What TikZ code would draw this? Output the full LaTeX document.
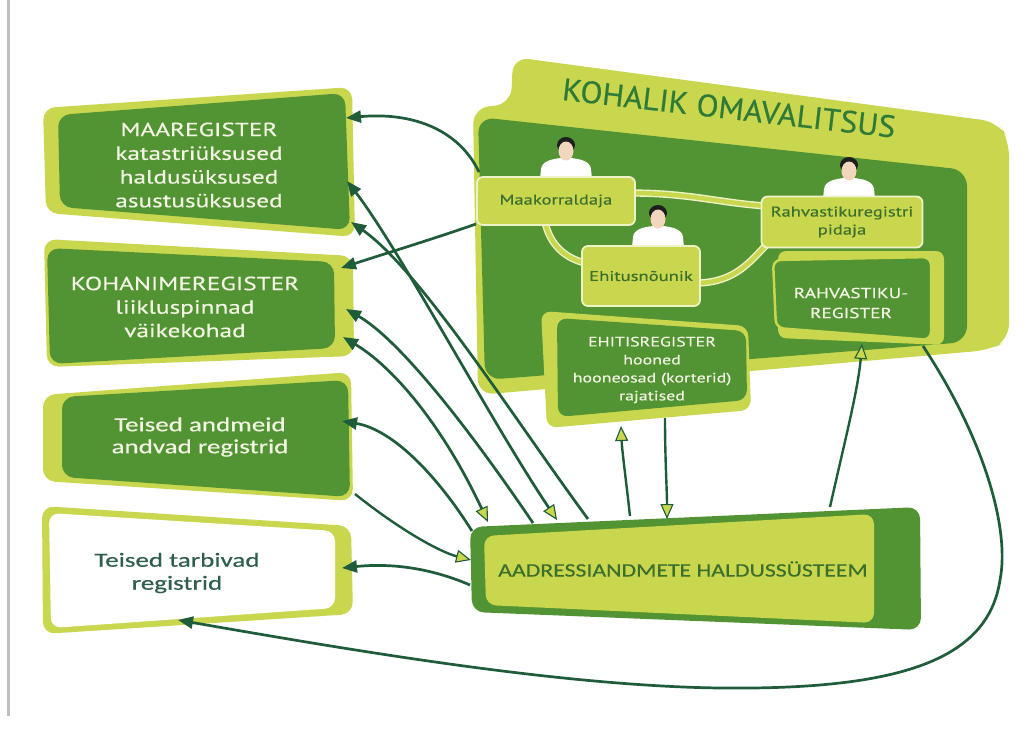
\documentclass[tikz,border=0pt]{standalone}
\usepackage{fontspec}
\usetikzlibrary{arrows.meta}
\setmainfont{PT Sans}
\newfontfamily\fwide[FakeStretch=1.33,FakeBold=0.5]{PT Sans}
\newfontfamily\ftitle[FakeStretch=1.04,FakeBold=0.5]{PT Sans}
\newfontfamily\fcal[FakeStretch=1.35,FakeBold=0.5]{Carlito}
\newfontfamily\fcalb[FakeStretch=1.25,FakeBold=0.5]{Carlito}
\definecolor{dg}{HTML}{529433}
\definecolor{lg}{HTML}{C9D74F}
\definecolor{pale}{HTML}{EEF3C6}
\definecolor{conn}{HTML}{1F5C3A}
\definecolor{ttl}{HTML}{2E7A36}
\definecolor{ptxt}{HTML}{3C6F2C}
\definecolor{wtxt}{HTML}{F1F5E2}
\definecolor{gtxt}{HTML}{2F5F4C}
\definecolor{skin}{HTML}{F3D6BE}
\definecolor{hair}{HTML}{1E1E1E}
\tikzset{
  darr/.style={draw=conn, line width=2.7pt, -{Triangle[length=15pt,width=12pt]}},
  larr/.style={draw=conn, line width=2.4pt, -{Triangle[length=15pt,width=13pt,fill=lg,line width=1.1pt]}},
  dlarr/.style={draw=conn, line width=2.7pt, {Triangle[length=15pt,width=13pt,fill=lg,line width=1.1pt]}-{Triangle[length=15pt,width=12pt]}},
  pline/.style={draw=pale, line width=1.4pt, double=lg, double distance=4.5pt},
  pbox/.style={fill=lg, draw=pale, line width=1.8pt, rounded corners=6pt, text=ptxt, inner sep=0pt, font=\fwide\fontsize{14}{18}\selectfont, align=center},
  regtxt/.style={inner sep=0pt, align=center, text=wtxt},
}
\newcommand\drawperson[2]{%
  \fill[white] (#1-26,#2) -- (#1-25,#2-10) .. controls (#1-24,#2-18) and (#1-14,#2-20) .. (#1-5,#2-21) -- (#1+5,#2-21) .. controls (#1+14,#2-20) and (#1+24,#2-18) .. (#1+25,#2-10) -- (#1+26,#2) -- cycle;
  \fill[hair] (#1,#2-34) ellipse [x radius=9, y radius=8];
  \fill[skin] (#1,#2-28) ellipse [x radius=7.5, y radius=9.5];
}
\begin{document}
\begin{tikzpicture}[x=1pt,y=-1pt]
\useasboundingbox (0,0) rectangle (1029,731);
\fill[white] (0,0) rectangle (1029,731);
% grey margin line
\fill[black!25] (7,0) rectangle (10,716);

% ---- KOHALIK OMAVALITSUS frame
\fill[lg, rounded corners=16] (513,57) -- (998,122) -- (1009,140) -- (1009,340) -- (990,350) -- (478,395) -- (473,108) -- (511,104) -- cycle;
\fill[dg, rounded corners=16] (478,117) -- (967,170) -- (967,342) -- (485,380) -- cycle;
\node[rotate=-6.5, inner sep=0pt, text=ttl, font=\ftitle\fontsize{31}{31}\selectfont] (title) at (729,108) {KOHALIK OMAVALITSUS};

% ---- EHITISREGISTER
\fill[lg, rounded corners=10] (541,311) -- (748,326) -- (751,410) -- (547,428) -- cycle;
\fill[dg, rounded corners=10] (557,318) -- (746,331) -- (747,400) -- (558,417) -- cycle;
\node[regtxt, font=\fwide\fontsize{13.5}{18}\selectfont] (ehit) at (652,370) {EHITISREGISTER\\hooned\\hooneosad (korterid)\\rajatised};

% ---- RAHVASTIKUREGISTER
\fill[lg, rounded corners=8] (778,251) -- (944,251) -- (944,345) -- (778,338) -- cycle;
\filldraw[fill=dg, draw=lg, line width=2.5pt, rounded corners=8] (773,260) -- (931,257) -- (931,340) -- (776,328) -- cycle;
\node[regtxt, font=\fwide\fontsize{14.5}{20}\selectfont] (rreg) at (851,303) {RAHVASTIKU-\\REGISTER};

% ---- person connections
\draw[pline] (630,193) .. controls (690,193) and (720,203) .. (766,206);
\draw[pline] (545,222) .. controls (550,245) and (565,258) .. (585,263);
\draw[pline] (698,283) .. controls (735,282) and (750,262) .. (768,243);

% ---- persons
\drawperson{566}{179}
\drawperson{658}{247}
\drawperson{849}{199}
\node[pbox, minimum width=158pt, minimum height=48pt] (pmaak) at (556,201) {Maakorraldaja};
\node[pbox, minimum width=118pt, minimum height=60pt] (pehit) at (641,276) {Ehitusnõunik};
\node[pbox, minimum width=161pt, minimum height=51pt] (prahv) at (842,222) {Rahvastikuregistri\\pidaja};

% ---- left registers
\fill[lg, rounded corners=12] (43,108) -- (352,87) -- (355,237) -- (46,213) -- cycle;
\fill[dg, rounded corners=12] (58,115) -- (345,93) -- (350,230) -- (60,207) -- cycle;
\node[regtxt, font=\fwide\fontsize{19}{23.7}\selectfont] (maa) at (199,165) {MAAREGISTER\\katastriüksused\\haldusüksused\\asustusüksused};

\fill[lg, rounded corners=12] (44,239) -- (353,256) -- (354,356) -- (47,367) -- cycle;
\fill[dg, rounded corners=12] (47,248) -- (334,262) -- (335,348) -- (50,364) -- cycle;
\node[regtxt, font=\fwide\fontsize{19}{23.5}\selectfont] (koh) at (185,307) {KOHANIMEREGISTER\\liikluspinnad\\väikekohad};

\fill[lg, rounded corners=12] (43,395) -- (351,372) -- (353,501) -- (43,481) -- cycle;
\fill[dg, rounded corners=12] (62,397) -- (348,380) -- (350,497) -- (62,477) -- cycle;
\node[regtxt, font=\fcal\fontsize{20}{22}\selectfont] (tand) at (200,437) {Teised andmeid\\andvad registrid};

\fill[lg, rounded corners=12] (42,506) -- (351,526) -- (353,614) -- (43,634) -- cycle;
\fill[white, rounded corners=10] (49,513) -- (335,531) -- (335,608) -- (51,628) -- cycle;
\node[inner sep=0pt, align=center, text=gtxt, font=\fcal\fontsize{20}{23}\selectfont] (ttar) at (177,573) {Teised tarbivad\\registrid};

% ---- address system
\fill[dg, rounded corners=12] (470,527) -- (920,507) -- (921,630) -- (472,612) -- cycle;
\fill[lg, rounded corners=10] (484,536) -- (874,514) -- (874,623) -- (486,605) -- cycle;
\node[inner sep=0pt, text=ptxt, font=\fcalb\fontsize{19}{19}\selectfont] (ads) at (683,569) {AADRESSIANDMETE HALDUSSÜSTEEM};

% ---- connector end points
\coordinate (c1s) at (479,172); \coordinate (c1e) at (346,118);
\coordinate (c2s) at (476,224); \coordinate (c2e) at (341,268);
\coordinate (m1s) at (557,520); \coordinate (m1e) at (347,181);
\coordinate (m2s) at (588,519); \coordinate (m2e) at (351,222);
\coordinate (k1s) at (533,523); \coordinate (k1e) at (346,309);
\coordinate (k2s) at (488,522); \coordinate (k2e) at (343,337);
\coordinate (t1s) at (472,531); \coordinate (t1e) at (342,421);
\coordinate (t2s) at (355,494); \coordinate (t2e) at (471,560);
\coordinate (tts) at (470,585); \coordinate (tte) at (342,568);
\coordinate (e1s) at (630,516); \coordinate (e1e) at (621,426);
\coordinate (e2s) at (665,418); \coordinate (e2e) at (667,519);
\coordinate (r1s) at (830,507); \coordinate (r1e) at (862,344);
\coordinate (bs) at (923,346);  \coordinate (be) at (178,620);
\coordinate (bm1) at (1000,580); \coordinate (bm2) at (720,688);

% ---- connectors
\draw[darr] (c1s) .. controls (458,128) and (410,112) .. (c1e);
\draw[darr] (c2s) .. controls (430,240) and (390,252) .. (c2e);
\draw[dlarr] (m1s) .. controls (490,420) and (400,250) .. (m1e);
\draw[darr] (m2s) .. controls (515,420) and (420,270) .. (m2e);
\draw[darr] (k1s) .. controls (470,430) and (400,340) .. (k1e);
\draw[dlarr] (k2s) .. controls (440,420) and (390,365) .. (k2e);
\draw[darr] (t1s) .. controls (440,480) and (395,430) .. (t1e);
\draw[larr] (t2s) .. controls (400,530) and (440,552) .. (t2e);
\draw[darr] (tts) .. controls (440,572) and (400,562) .. (tte);
\draw[larr] (e1s) .. controls (626,480) and (622,450) .. (e1e);
\draw[larr] (e2s) .. controls (665,460) and (667,490) .. (e2e);
\draw[larr] (r1s) .. controls (845,440) and (858,390) .. (r1e);
\draw[darr] (bs) .. controls (985,440) and (1010,530) .. (bm1)
  .. controls (988,660) and (900,690) .. (bm2)
  .. controls (560,686) and (350,650) .. (be);
\end{tikzpicture}
\end{document}
